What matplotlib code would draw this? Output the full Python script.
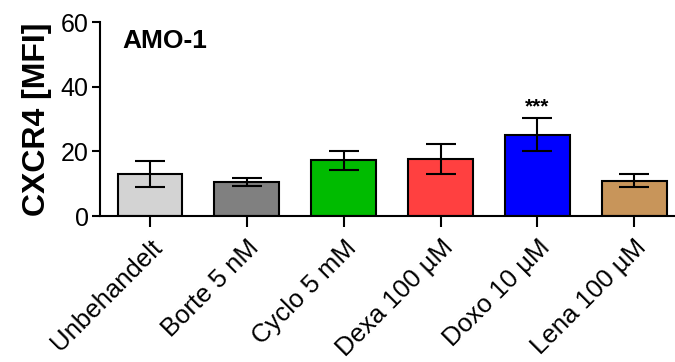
import numpy as np
import matplotlib
matplotlib.use("Agg")
import matplotlib.pyplot as plt

plt.rcParams['font.family'] = ['Liberation Sans', 'DejaVu Sans']

# data
groups = ["Unbehandelt", "Borte 5 nM", "Cyclo 5 mM", "Dexa 100 \u00b5M", "Doxo 10 \u00b5M", "Lena 100 \u00b5M"]
means = [13.0, 10.6, 17.2, 17.6, 25.2, 11.0]
errors = [4.0, 1.2, 2.8, 4.7, 5.2, 2.0]
colors = ["#d3d3d3", "#808080", "#00bb00", "#ff4040", "#0000ff", "#c8955a"]
stars = ["", "", "", "", "***", ""]

fig = plt.figure(figsize=(6.75, 3.62), dpi=100)
ax = fig.add_axes([0.148, 0.403, 0.852, 0.536])

x = np.arange(len(groups))
ax.bar(x, means, width=0.67, color=colors, edgecolor="black", linewidth=1.5, zorder=2)
ax.errorbar(x, means, yerr=errors, fmt="none", ecolor="black", elinewidth=1.5,
            capsize=10.5, capthick=1.5, zorder=3)

for xi, m, e, s in zip(x, means, errors, stars):
    if s:
        ax.text(xi, m + e + 0.5, s, ha="center", va="bottom", fontsize=15, fontweight="bold")

ax.set_xlim(-0.517, 5.42)
ax.set_ylim(0, 60)
ax.set_yticks([0, 20, 40, 60])
ax.set_xticks(x)
ax.set_xticklabels(groups, rotation=45, ha="right", rotation_mode="anchor", fontsize=18.5)
ax.tick_params(axis="y", labelsize=18, width=1.5, length=6, pad=2)
ax.tick_params(axis="x", width=1.5, length=8, pad=6)

ax.spines["top"].set_visible(False)
ax.spines["right"].set_visible(False)
ax.spines["left"].set_linewidth(1.5)
ax.spines["bottom"].set_linewidth(1.5)

ax.set_ylabel("CXCR4 [MFI]", fontsize=23, fontweight="bold", labelpad=6)
ax.text(-0.29, 54, "AMO-1", fontsize=19, fontweight="bold", va="center", ha="left")

plt.savefig("out.png", dpi=100)
